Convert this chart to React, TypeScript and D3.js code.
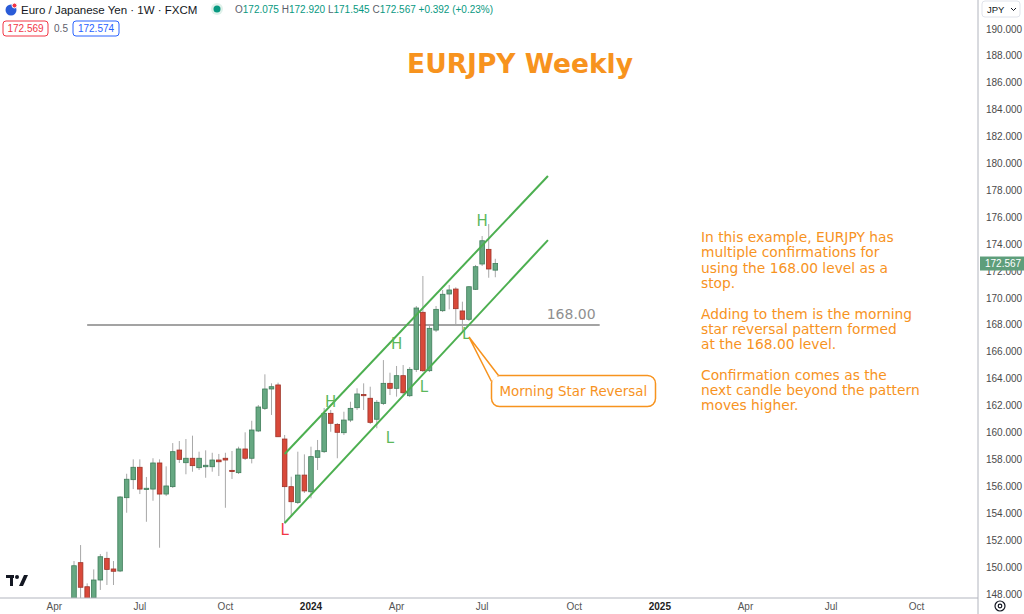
import React from "react";
import * as d3 from "d3";

const dates = [
  "2023-04-24","2023-05-01","2023-05-08","2023-05-15","2023-05-22","2023-05-29","2023-06-05","2023-06-12","2023-06-19","2023-06-26",
  "2023-07-03","2023-07-10","2023-07-17","2023-07-24","2023-07-31","2023-08-07","2023-08-14","2023-08-21","2023-08-28","2023-09-04",
  "2023-09-11","2023-09-18","2023-09-25","2023-10-02","2023-10-09","2023-10-16","2023-10-23","2023-10-30","2023-11-06","2023-11-13",
  "2023-11-20","2023-11-27","2023-12-04","2023-12-11","2023-12-18","2023-12-25","2024-01-01","2024-01-08","2024-01-15","2024-01-22",
  "2024-01-29","2024-02-05","2024-02-12","2024-02-19","2024-02-26","2024-03-04","2024-03-11","2024-03-18","2024-03-25","2024-04-01",
  "2024-04-08","2024-04-15","2024-04-22","2024-04-29","2024-05-06","2024-05-13","2024-05-20","2024-05-27","2024-06-03","2024-06-10",
  "2024-06-17","2024-06-24","2024-07-01","2024-07-08","2024-07-15",
];
const opens = [147.6,150.33,148.54,147.7,149.04,150.65,149.86,149.71,155.16,156.50,157.42,155.83,155.80,157.74,155.43,155.98,158.70,157.76,158.09,157.39,157.46,157.46,157.96,158.09,157.19,157.02,158.78,158.09,160.12,161.80,163.24,163.54,159.52,155.98,154.81,156.84,155.60,158.16,158.58,161.43,160.61,159.99,160.93,161.85,162.83,162.55,160.99,162.17,163.66,163.29,164.23,162.74,164.70,168.94,164.60,167.62,169.06,170.30,170.67,169.04,168.42,170.65,172.53,173.62,172.075];
const highs = [150.45,151.64,148.79,149.83,150.97,151.14,150.45,155.28,156.94,158.01,158.01,156.70,158.09,158.01,157.49,159.22,159.37,159.52,159.77,158.58,158.68,158.50,158.41,158.50,158.63,158.95,160.02,160.88,162.05,164.33,163.66,163.71,159.82,156.72,158.58,158.38,158.95,159.45,161.83,161.68,160.71,161.55,162.29,163.29,163.66,163.41,162.42,165.39,164.45,164.95,165.02,164.87,169.41,171.64,167.92,169.41,170.60,170.97,170.80,169.73,170.89,172.46,174.61,175.50,172.92];
const lows = [147.3,147.4,147.2,147.4,148.30,148.67,148.67,149.63,154.04,155.80,155.43,153.37,154.93,151.44,155.28,155.88,157.74,156.90,157.09,157.22,156.64,157.09,156.77,154.41,156.55,156.92,157.96,157.71,160.04,161.68,161.31,159.67,153.25,153.75,154.69,155.51,155.11,157.22,158.48,160.06,158.09,159.82,160.78,161.68,161.68,160.64,160.32,162.05,162.79,162.67,162.79,162.64,164.50,164.50,164.50,167.47,168.96,169.16,168.07,167.50,168.29,170.60,172.38,171.51,171.545];
const closes = [150.10,148.50,147.6,149.04,150.77,149.83,149.69,155.21,156.53,157.42,155.80,155.86,157.74,155.43,156.03,158.58,158.01,158.09,157.54,158.09,157.57,157.96,157.83,157.96,157.14,158.78,158.09,160.19,161.90,163.24,163.41,159.69,155.98,154.86,156.84,155.66,158.21,158.65,161.43,160.69,160.02,160.93,161.80,162.87,162.76,160.76,162.25,163.66,163.29,164.23,162.96,164.70,169.26,164.60,167.75,169.16,170.28,170.60,169.21,168.42,170.84,172.33,174.26,172.16,172.567];

const yTicks = [148,150,152,154,156,158,160,162,164,166,168,170,172,174,176,178,180,182,184,186,188,190];
const xTickDates = ["2023-04-03","2023-07-03","2023-10-02","2024-01-01","2024-04-01","2024-07-01","2024-10-07","2025-01-06","2025-04-07","2025-07-07","2025-10-06"];
const xTickLabels = ["Apr","Jul","Oct","2024","Apr","Jul","Oct","2025","Apr","Jul","Oct"];

const upperChannel = [{ d: "2023-12-04", p: 158.41 }, { d: "2024-09-09", p: 179.07 }];
const lowerChannel = [{ d: "2023-12-04", p: 153.28 }, { d: "2024-09-09", p: 174.31 }];
const stopLevel = 168.0;
const stopLine = { from: "2023-05-08", to: "2024-11-03" };

const hlLabels = [
  { t: "L", d: "2023-12-04", p: 152.38, red: true },
  { t: "H", d: "2024-01-22", p: 161.9, red: false },
  { t: "L", d: "2024-03-25", p: 159.22, red: false },
  { t: "H", d: "2024-04-01", p: 166.21, red: false },
  { t: "L", d: "2024-04-30", p: 163.02, red: false },
  { t: "H", d: "2024-07-01", p: 175.36, red: false },
  { t: "L", d: "2024-06-14", p: 166.95, red: false },
];

const noteLines = [
  "In this example, EURJPY has",
  "multiple confirmations for",
  "using the 168.00 level as a",
  "stop.",
  "",
  "Adding to them is the morning",
  "star reversal pattern formed",
  "at the 168.00 level.",
  "",
  "Confirmation comes as the",
  "next candle beyond the pattern",
  "moves higher.",
];

const W = 1024;
const H = 614;
const plotRight = 978;
const plotBottom = 598;
const ORANGE = "#f7931e";
const GREEN_LINE = "#4caf50";
const GREEN_TXT = "#5cb85c";
const UP_FILL = "#66a882";
const UP_STROKE = "#3f7d5a";
const DN_FILL = "#d9493a";
const DN_STROKE = "#9e3328";
const AXIS_FONT = "'Liberation Sans', Arial, sans-serif";
const NOTE_FONT = "'DejaVu Sans', Verdana, sans-serif";

const parse = (s: string) => new Date(s + "T00:00:00Z");

export default function App() {
  const x = d3.scaleUtc().domain([parse(dates[0]), parse(dates[dates.length - 1])]).range([74, 495.3]);
  const y = d3.scaleLinear().domain([148, 190]).range([594, 29]);
  const candles = dates.map((d, i) => ({ d: parse(d), o: opens[i], h: highs[i], l: lows[i], c: closes[i] }));
  const bw = 4.6;
  const line = d3.line<{ d: string; p: number }>().x((v) => x(parse(v.d))).y((v) => y(v.p));

  const lastClose = closes[closes.length - 1];
  const tip = { x: x(parse("2024-06-17")), y: y(167.1) };
  const box = { x: 491.5, y: 375.5, w: 164, h: 31 };

  return (
    <div style={{ position: "absolute", left: 0, top: 0 }}>
      <svg width={W} height={H} style={{ display: "block", background: "#fff" }}>
        <defs>
          <clipPath id="plot">
            <rect x={0} y={0} width={plotRight} height={plotBottom} />
          </clipPath>
        </defs>

        {/* header */}
        <g fontFamily={AXIS_FONT}>
          <circle cx={11} cy={10} r={5.5} fill="#2a5bd7" />
          <circle cx={14.5} cy={5.5} r={2.5} fill="#f23645" stroke="#fff" strokeWidth={1} />
          <text x={21} y={14} fontSize={11.5} fill="#131722">Euro / Japanese Yen · 1W · FXCM</text>
          <circle cx={217} cy={9} r={6} fill="#dff1ea" />
          <circle cx={217} cy={9} r={3.5} fill="#089981" />
          <text x={235} y={13} fontSize={10}>
            <tspan fill="#5d606b">O</tspan><tspan fill="#089981">172.075 </tspan>
            <tspan fill="#5d606b">H</tspan><tspan fill="#089981">172.920 </tspan>
            <tspan fill="#5d606b">L</tspan><tspan fill="#089981">171.545 </tspan>
            <tspan fill="#5d606b">C</tspan><tspan fill="#089981">172.567 +0.392 (+0.23%)</tspan>
          </text>
          <rect x={3} y={21} width={45} height={15} rx={3} fill="#fff" stroke="#f23645" strokeWidth={1} />
          <text x={25.5} y={32} fontSize={10} fill="#f23645" textAnchor="middle">172.569</text>
          <text x={61} y={32} fontSize={10} fill="#5d606b" textAnchor="middle">0.5</text>
          <rect x={73} y={21} width={46} height={15} rx={3} fill="#fff" stroke="#2962ff" strokeWidth={1} />
          <text x={96} y={32} fontSize={10} fill="#2962ff" textAnchor="middle">172.574</text>
        </g>

        {/* title */}
        <text x={520} y={73} textAnchor="middle" fontFamily={NOTE_FONT} fontWeight={700} fontSize={26.5} fill={ORANGE}>
          EURJPY Weekly
        </text>

        <g clipPath="url(#plot)">
          {/* stop line */}
          <line x1={x(parse(stopLine.from))} x2={x(parse(stopLine.to))} y1={y(stopLevel)} y2={y(stopLevel)} stroke="#a3a3a3" strokeWidth={2} />
          <text x={x(parse(stopLine.to)) - 4} y={y(stopLevel) - 6} textAnchor="end" fontFamily={NOTE_FONT} fontSize={14} fill="#8f8f8f">168.00</text>

          {/* candles */}
          {candles.map((k, i) => {
            const up = k.c >= k.o;
            const cx = x(k.d);
            const top = y(Math.max(k.o, k.c));
            const bot = y(Math.min(k.o, k.c));
            return (
              <g key={i}>
                <line x1={cx} x2={cx} y1={y(k.h)} y2={y(k.l)} stroke="#a8a8a8" strokeWidth={1} />
                <rect x={cx - bw / 2} y={top} width={bw} height={Math.max(1.2, bot - top)} fill={up ? UP_FILL : DN_FILL} stroke={up ? UP_STROKE : DN_STROKE} strokeWidth={0.8} />
              </g>
            );
          })}

          {/* channel */}
          <path d={line(upperChannel) || ""} stroke={GREEN_LINE} strokeWidth={2} fill="none" />
          <path d={line(lowerChannel) || ""} stroke={GREEN_LINE} strokeWidth={2} fill="none" />

          {hlLabels.map((h, i) => (
            <text key={i} x={x(parse(h.d))} y={y(h.p)} textAnchor="middle" fontFamily={NOTE_FONT} fontSize={15} fill={h.red ? "#f23645" : GREEN_TXT}>
              {h.t}
            </text>
          ))}

          {/* callout */}
          <rect x={box.x} y={box.y} width={box.w} height={box.h} rx={8} fill="#fff" stroke={ORANGE} strokeWidth={1.5} />
          <path d={`M${box.x},${box.y + 6} L${tip.x},${tip.y} L${box.x + 7},${box.y}`} fill="#fff" stroke={ORANGE} strokeWidth={1.5} />
          <text x={box.x + 8} y={box.y + 20.5} fontFamily={NOTE_FONT} fontSize={13.4} fill={ORANGE}>Morning Star Reversal</text>

          {/* note */}
          <text fontFamily={NOTE_FONT} fontSize={13.8} fill={ORANGE}>
            {noteLines.map((t, i) => (
              <tspan key={i} x={701} y={242 + i * 15.3}>{t}</tspan>
            ))}
          </text>

          {/* TV logo */}
          <g fill="#131722">
            <rect x={6} y={575} width={8} height={3} />
            <rect x={10} y={575} width={3} height={11} />
            <circle cx={17} cy={577} r={2} />
            <path d="M19,586 L24,575 L28,575 L23,586 Z" />
          </g>
        </g>

        {/* axes */}
        <line x1={0} x2={plotRight} y1={plotBottom} y2={plotBottom} stroke="#b2b5be" strokeWidth={1} />
        <line x1={plotRight} x2={plotRight} y1={0} y2={H} stroke="#b2b5be" strokeWidth={1} />
        <g fontFamily={AXIS_FONT} fontSize={10} fill="#4a4a4a">
          {yTicks.map((t) => (
            <text key={t} x={986} y={y(t) + 3.5}>{t.toFixed(3)}</text>
          ))}
          {xTickDates.map((d, i) => (
            <text key={d} x={x(parse(d))} y={610} textAnchor="middle" fontWeight={xTickLabels[i].length === 4 ? 700 : 400} fill={xTickLabels[i].length === 4 ? "#222" : "#555"}>
              {xTickLabels[i]}
            </text>
          ))}
        </g>
        <rect x={980} y={y(lastClose) - 7} width={44} height={14} fill="#5e9e7b" />
        <text x={985} y={y(lastClose) + 3.5} fontFamily={AXIS_FONT} fontSize={10} fill="#fff">{lastClose.toFixed(3)}</text>
        <rect x={982} y={1} width={38} height={16} rx={3} fill="#fff" stroke="#e0e3eb" />
        <text x={987} y={12.5} fontFamily={AXIS_FONT} fontSize={9.5} fill="#131722">JPY</text>
        <path d="M1011,8 l2.5,2.5 l2.5,-2.5" fill="none" stroke="#131722" strokeWidth={1} />
        <circle cx={1000} cy={606} r={5} fill="none" stroke="#131722" strokeWidth={1.2} />
        <circle cx={1000} cy={606} r={1.8} fill="none" stroke="#131722" strokeWidth={1.2} />
      </svg>
    </div>
  );
}
